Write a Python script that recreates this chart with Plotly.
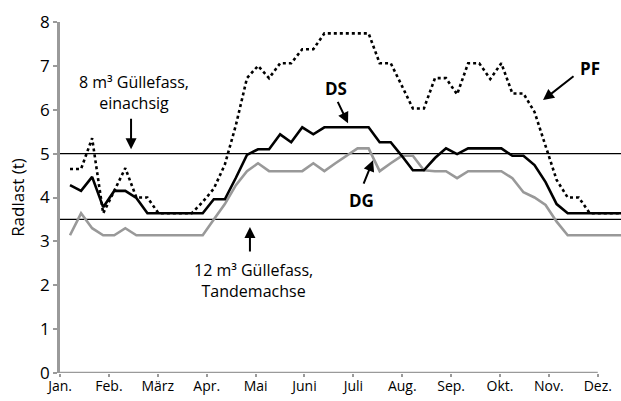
import plotly.graph_objects as go

# ---- data (weekly values, Radlast in t) ----
weeks = list(range(51))

DS = [4.28, 4.15, 4.47, 3.78, 4.15, 4.15, 3.99, 3.64, 3.64, 3.64,
      3.64, 3.64, 3.64, 3.96, 3.96, 4.45, 4.97, 5.10, 5.10, 5.44,
      5.26, 5.60, 5.44, 5.60, 5.60, 5.60, 5.60, 5.60, 5.26, 5.26,
      4.95, 4.62, 4.62, 4.90, 5.12, 4.99, 5.12, 5.12, 5.12, 5.12,
      4.95, 4.95, 4.74, 4.35, 3.85, 3.64, 3.64, 3.64, 3.64, 3.64, 3.64]

DG = [3.14, 3.64, 3.30, 3.14, 3.14, 3.30, 3.14, 3.14, 3.14, 3.14,
      3.14, 3.14, 3.14, 3.50, 3.85, 4.28, 4.60, 4.78, 4.60, 4.60,
      4.60, 4.60, 4.78, 4.60, 4.78, 4.95, 5.12, 5.12, 4.60, 4.78,
      4.95, 4.95, 4.62, 4.60, 4.60, 4.44, 4.60, 4.60, 4.60, 4.60,
      4.44, 4.12, 4.00, 3.83, 3.45, 3.14, 3.14, 3.14, 3.14, 3.14, 3.14]

PF = [4.65, 4.65, 5.35, 3.64, 4.15, 4.67, 4.00, 4.00, 3.64, 3.64,
      3.64, 3.64, 3.90, 4.20, 4.75, 5.65, 6.72, 7.00, 6.72, 7.06,
      7.06, 7.38, 7.38, 7.74, 7.74, 7.74, 7.74, 7.74, 7.06, 7.06,
      6.55, 6.03, 6.03, 6.72, 6.72, 6.35, 7.06, 7.06, 6.70, 7.06,
      6.37, 6.37, 5.95, 5.20, 4.40, 4.00, 4.00, 3.64, 3.64, 3.64, 3.64]

months = ["Jan.", "Feb.", "März", "Apr.", "Mai", "Juni",
          "Juli", "Aug.", "Sep.", "Okt.", "Nov.", "Dez."]
month_pos = [-0.90 + 4.42 * m for m in range(12)]  # tick positions in week units

limit_8m3 = 5.0
limit_12m3 = 3.5

FONT = "Open Sans"
AX_GRAY = "#9a9a9a"

fig = go.Figure()

fig.add_trace(go.Scatter(x=weeks, y=DG, mode="lines", name="DG",
                         line=dict(color="#999999", width=2.6)))
fig.add_trace(go.Scatter(x=weeks, y=DS, mode="lines", name="DS",
                         line=dict(color="black", width=2.6)))
fig.add_trace(go.Scatter(x=weeks, y=PF, mode="lines", name="PF",
                         line=dict(color="black", width=2.6, dash="dot")))

# reference lines
for lv in (limit_8m3, limit_12m3):
    fig.add_shape(type="line", xref="paper", x0=0, x1=1, yref="y", y0=lv, y1=lv,
                  line=dict(color="black", width=1.2), layer="below")

# x axis line (ends at Dez. tick)
fig.add_shape(type="line", xref="x", x0=month_pos[0], x1=month_pos[-1],
              yref="y", y0=0, y1=0, line=dict(color=AX_GRAY, width=2.5))

ann = []
txt_font = dict(family=FONT, size=16, color="black")
bold_font = dict(family=FONT, size=17, color="black")

ann.append(dict(x=5.79, y=6.40, text="8 m³ Güllefass,<br>einachsig", showarrow=False,
                font=txt_font, align="center"))
ann.append(dict(x=16.55, y=2.10, text="12 m³ Güllefass,<br>Tandemachse", showarrow=False,
                font=txt_font, align="center"))
ann.append(dict(x=24.05, y=6.49, text="<b>DS</b>", showarrow=False, font=bold_font))
ann.append(dict(x=26.4, y=3.94, text="<b>DG</b>", showarrow=False, font=bold_font))
ann.append(dict(x=47.0, y=6.95, text="<b>PF</b>", showarrow=False, font=bold_font))

arrow_common = dict(text="", showarrow=True, arrowhead=2, arrowsize=1.1,
                    arrowwidth=2, arrowcolor="black", axref="pixel", ayref="pixel")
ann.append(dict(x=5.52, y=5.10, ax=0, ay=-32, **arrow_common))
ann.append(dict(x=16.27, y=3.33, ax=0, ay=26, **arrow_common))
ann.append(dict(x=25.14, y=5.69, ax=-11, ay=-23, **arrow_common))
ann.append(dict(x=27.4, y=4.85, ax=-10, ay=25, **arrow_common))
ann.append(dict(x=42.77, y=6.22, ax=32, ay=-25, **arrow_common))

fig.update_layout(
    width=621, height=401,
    margin=dict(l=60, r=0, t=22, b=28),
    paper_bgcolor="white", plot_bgcolor="white",
    showlegend=False,
    font=dict(family=FONT, color="black"),
    annotations=ann,
    xaxis=dict(range=[-0.904, 49.82], tickmode="array", tickvals=month_pos,
               ticktext=months, showgrid=False, zeroline=False, showline=False,
               automargin=False,
               ticks="outside", ticklen=3, tickwidth=2, tickcolor=AX_GRAY,
               ticklabelstandoff=-3,
               tickfont=dict(family=FONT, size=14, color="black")),
    yaxis=dict(range=[0, 8], tickmode="array", tickvals=list(range(9)),
               showgrid=False, zeroline=False, showline=True, linecolor=AX_GRAY,
               linewidth=2.5, ticks="outside", ticklen=4, tickwidth=2,
               tickcolor=AX_GRAY, automargin=False,
               tickfont=dict(family=FONT, size=17, color="black"),
               title=dict(text="Radlast (t)", font=dict(family=FONT, size=17),
                          standoff=12)),
)

fig.write_html("out.html", config={"displayModeBar": False},
               post_script="document.body.style.margin='0';document.body.style.padding='0';")
